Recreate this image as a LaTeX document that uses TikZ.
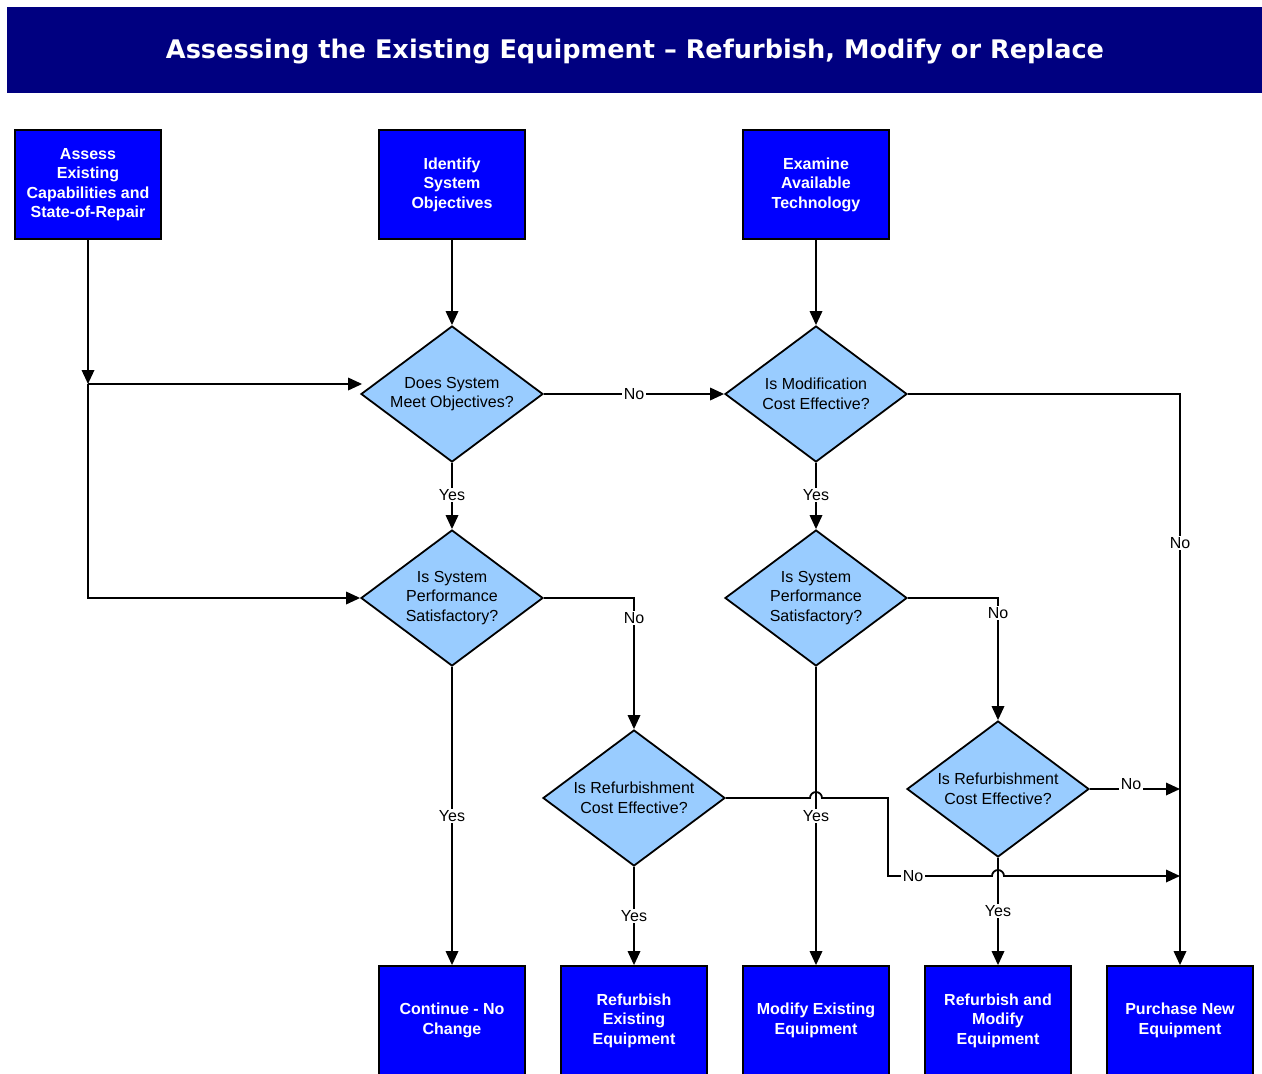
\documentclass[tikz,border=0pt]{standalone}
\usepackage{fontspec}
\setmainfont{Liberation Sans}
\newfontfamily\titlefont{DejaVu Sans}
\usetikzlibrary{shapes.geometric,arrows.meta}
\definecolor{navyband}{RGB}{0,0,128}
\definecolor{boxblue}{RGB}{0,0,255}
\definecolor{decblue}{RGB}{153,204,255}
\tikzset{
  actbox/.style={rectangle, draw=black, line width=1.8pt, fill=boxblue, text=white,
    font=\bfseries\fontsize{16}{19.5}\selectfont, align=center,
    minimum width=146pt, minimum height=109pt, inner sep=2pt},
  decision/.style={diamond, shape aspect=1.34, draw=black, line width=1.8pt, fill=decblue,
    font=\fontsize{16}{19.5}\selectfont, align=center,
    minimum width=182pt, minimum height=136pt, inner sep=0pt},
  flow/.style={line width=1.8pt, -{Triangle[length=14pt,width=12.5pt]}},
  lbl/.style={fill=white, inner sep=1.5pt, font=\fontsize{16}{19}\selectfont}
}
\begin{document}
\begin{tikzpicture}[x=1pt,y=-1pt]
\useasboundingbox (0,0) rectangle (1262,1074);

% title band
\fill[navyband] (7,7) rectangle (1262,93);
\node[text=white, font=\titlefont\bfseries\fontsize{25.6}{30}\selectfont] (title) at (635,52)
  {Assessing the Existing Equipment – Refurbish, Modify or Replace};

% top activities
\node[actbox] (assess)   at (88,184.5)  {Assess\\Existing\\Capabilities and\\State-of-Repair};
\node[actbox] (identify) at (452,184.5) {Identify\\System\\Objectives};
\node[actbox] (examine)  at (816,184.5) {Examine\\Available\\Technology};

% decisions
\node[decision] (meet)   at (452,394) {Does System\\Meet Objectives?};
\node[decision] (modce)  at (816,394) {Is Modification\\Cost Effective?};
\node[decision] (perfA)  at (452,598) {Is System\\Performance\\Satisfactory?};
\node[decision] (perfB)  at (816,598) {Is System\\Performance\\Satisfactory?};
\node[decision] (refA)   at (634,798) {Is Refurbishment\\Cost Effective?};
\node[decision] (refB)   at (998,789) {Is Refurbishment\\Cost Effective?};

% outcomes
\node[actbox] (cont)     at (452,1020.5)  {Continue - No\\Change};
\node[actbox] (refurb)   at (634,1020.5)  {Refurbish\\Existing\\Equipment};
\node[actbox] (modify)   at (816,1020.5)  {Modify Existing\\Equipment};
\node[actbox] (refmod)   at (998,1020.5)  {Refurbish and\\Modify\\Equipment};
\node[actbox] (purchase) at (1180,1020.5) {Purchase New\\Equipment};

% junction below the assessment box
\coordinate (j) at (88,384);
\draw[flow] (assess.south) -- (j);
\draw[flow] (j) -- ([xshift=2pt]j -| meet.west);
\draw[flow] (j) |- (perfA.west);

\draw[flow] (identify.south) -- (meet.north);
\draw[flow] (examine.south) -- (modce.north);
\draw[flow] (meet.east) -- (modce.west);
\draw[flow] (meet.south) -- (perfA.north);
\draw[flow] (modce.south) -- (perfB.north);
\draw[flow] (modce.east) -| (purchase.north);
\draw[flow] (perfA.east) -| (refA.north);
\draw[flow] (perfA.south) -- (cont.north);
\draw[flow] (perfB.east) -| (refB.north);
\draw[flow] (perfB.south) -- (modify.north);
\draw[flow] (refA.south) -- (refurb.north);
\draw[flow] (refB.south) -- (refmod.north);
\draw[flow] (refB.east) -- (refB.east -| purchase.north);

% refurbishment "No" path, hopping over the crossing lines
\coordinate (bendA) at (888,798);
\coordinate (bendB) at (888,876);
\draw[flow] (refA.east) -- ([xshift=-6pt]perfB |- refA.east)
  arc[start angle=180, end angle=0, radius=6pt] -- (bendA) -- (bendB)
  -- ([xshift=-6pt]refB |- bendB)
  arc[start angle=180, end angle=0, radius=6pt] -- (purchase |- bendB);

% branch labels
\node[lbl] (l1)  at (634,394)  {No};
\node[lbl] (l2)  at (1180,543) {No};
\node[lbl] (l3)  at (634,618)  {No};
\node[lbl] (l4)  at (998,613)  {No};
\node[lbl] (l5)  at (1131,784) {No};
\node[lbl] (l6)  at (913,876)  {No};
\node[lbl] (l7)  at (452,495)  {Yes};
\node[lbl] (l8)  at (816,495)  {Yes};
\node[lbl] (l9)  at (452,816)  {Yes};
\node[lbl] (l10) at (816,816)  {Yes};
\node[lbl] (l11) at (634,916)  {Yes};
\node[lbl] (l12) at (998,911)  {Yes};
\end{tikzpicture}
\end{document}
